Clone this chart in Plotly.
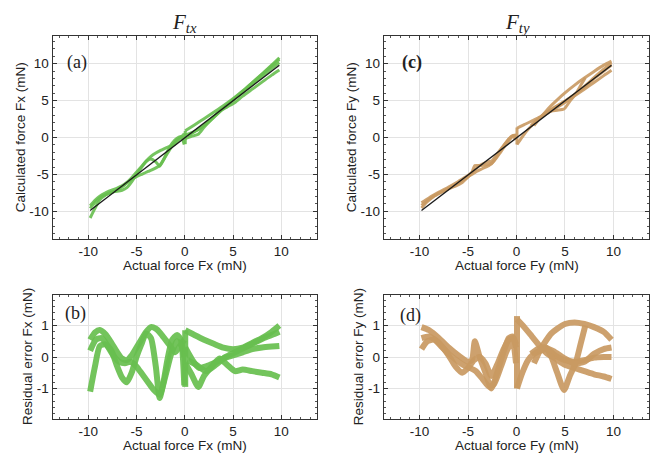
import plotly.graph_objects as go

# ---------------- data ----------------
tick_vals = [-10, -5, 0, 5, 10]
tick_text = ["-10", "-5", "0", "5", "10"]
res_tick_vals = [-1, 0, 1]
res_tick_text = ["-1", "0", "1"]

# fitted line in the upper panels
fit_x = [-9.8, 9.8]
fit_y = [-9.9, 9.8]

# residual error branches, Fx  (actual force, residual)
fx_b1_x = [-9.8, -9.3, -8.8, -8.2, -7.6, -7.0, -6.5, -6.0, -5.5, -5.0, -4.5, -4.0, -3.5, -3.0, -2.5, -2.0, -1.5, -1.0, -0.5, -0.05]
fx_b1_y = [0.55, 0.78, 0.86, 0.72, 0.45, 0.15, -0.05, -0.1, 0.05, 0.3, 0.55, 0.8, 0.95, 0.9, 0.75, 0.55, 0.35, 0.15, 0.35, 0.55]
fx_b2_x = [-9.8, -9.3, -8.8, -8.2, -7.6, -7.0, -6.5, -6.0, -5.5, -5.0, -4.5, -4.0, -3.5, -3.0, -2.6, -2.2, -1.8, -1.3, -0.8, -0.4, -0.05]
fx_b2_y = [-1.1, -0.3, 0.35, 0.4, 0.2, -0.3, -0.65, -0.8, -0.5, 0.0, 0.4, 0.75, 0.6, -0.3, -1.3, -0.8, -0.1, 0.55, 0.7, 0.55, -0.9]
fx_b3_x = [-9.8, -9.2, -8.6, -8.0, -7.4, -6.8, -6.2, -5.6, -5.0, -4.4, -3.8, -3.2, -2.6, -2.0, -1.4, -0.8, -0.3, -0.05]
fx_b3_y = [0.2, 0.55, 0.6, 0.35, 0.05, -0.15, -0.2, -0.15, -0.3, -0.55, -0.8, -1.05, -1.2, -0.6, 0.1, 0.5, 0.35, 0.0]
fx_b4_x = [0.05, 0.05]
fx_b4_y = [-0.95, 0.85]
fx_b5_x = [0.05, 1.0, 2.0, 3.0, 4.0, 5.0, 6.0, 7.0, 8.0, 9.0, 9.8]
fx_b5_y = [0.85, 0.7, 0.55, 0.42, 0.3, 0.25, 0.3, 0.45, 0.6, 0.8, 1.0]
fx_b6_x = [0.05, 0.8, 1.5, 2.2, 3.0, 4.0, 5.0, 6.0, 7.0, 8.0, 9.0, 9.8]
fx_b6_y = [0.3, -0.1, -0.35, -0.3, -0.2, -0.05, 0.05, 0.15, 0.25, 0.3, 0.33, 0.35]
fx_b7_x = [0.05, 0.7, 1.4, 2.0, 2.8, 3.6, 4.4, 5.2, 6.0, 7.0, 8.0, 9.0, 9.8]
fx_b7_y = [-0.2, -0.55, -0.95, -0.6, -0.3, -0.05, -0.25, -0.45, -0.4, -0.45, -0.5, -0.55, -0.65]
fx_b8_x = [0.3, 1.2, 2.2, 3.2, 4.2, 5.2, 6.2, 7.2, 8.2, 9.2, 9.8]
fx_b8_y = [-0.1, -0.25, -0.45, -0.25, 0.0, 0.15, 0.3, 0.45, 0.6, 0.72, 0.8]

# residual error branches, Fy
fy_b1_x = [-9.8, -9.0, -8.0, -7.0, -6.0, -5.0, -4.6, -4.3, -3.8, -3.2, -2.6, -2.0, -1.4, -0.8, -0.4, -0.05]
fy_b1_y = [0.95, 0.85, 0.6, 0.3, 0.05, -0.15, -0.1, 0.5, 0.0, -0.5, -1.0, -0.5, 0.1, 0.6, 0.65, 0.3]
fy_b2_x = [-9.8, -9.0, -8.0, -7.0, -6.3, -5.6, -5.0, -4.4, -3.8, -3.2, -2.6, -2.0, -1.4, -0.8, -0.3, -0.05]
fy_b2_y = [0.6, 0.65, 0.45, 0.05, -0.3, -0.5, -0.35, -0.1, 0.0, -0.2, -0.6, -0.25, 0.2, 0.55, 0.6, 0.4]
fy_b3_x = [-9.8, -9.2, -8.5, -7.8, -7.0, -6.2, -5.5, -4.8, -4.2, -3.5, -2.8, -2.3, -1.6, -1.0, -0.4, -0.05]
fy_b3_y = [0.25, 0.5, 0.55, 0.35, 0.1, -0.1, -0.25, -0.35, -0.45, -0.7, -0.95, -0.85, -0.3, 0.2, 0.5, -0.2]
fy_b4_x = [0.05, 0.05]
fy_b4_y = [-1.0, 1.3]
fy_b5_x = [0.05, 0.8, 1.6, 2.4, 3.2, 4.0, 5.0, 6.0, 7.0, 8.0, 9.0, 9.8]
fy_b5_y = [1.2, 0.95, 0.65, 0.35, 0.1, -0.05, -0.25, -0.35, -0.45, -0.55, -0.62, -0.7]
fy_b6_x = [1.8, 2.4, 3.0, 3.6, 4.2, 5.0, 6.0, 7.0, 8.0, 9.0, 9.8]
fy_b6_y = [-0.2, 0.2, 0.5, 0.75, 0.9, 1.05, 1.1, 1.05, 0.95, 0.8, 0.55]
fy_b7_x = [0.05, 0.6, 1.2, 1.8, 2.5, 3.2, 4.0, 5.0, 6.0, 7.0, 8.0, 9.0, 9.8]
fy_b7_y = [-1.0, -0.5, -0.1, 0.1, 0.2, 0.25, 0.05, -0.1, -0.15, -0.1, -0.02, 0.0, 0.0]
fy_b8_x = [1.5, 2.2, 3.0, 3.6, 4.2, 4.9, 5.5, 6.1, 6.6, 7.1]
fy_b8_y = [0.1, 0.25, 0.3, 0.0, -0.5, -1.05, -0.6, -0.2, 0.4, 1.0]
fy_b9_x = [3.0, 4.0, 5.0, 6.0, 7.0, 8.0, 9.0, 9.8]
fy_b9_y = [0.3, 0.15, -0.05, -0.2, -0.15, 0.1, 0.25, 0.3]

fx_branches = [(fx_b1_x, fx_b1_y), (fx_b2_x, fx_b2_y), (fx_b3_x, fx_b3_y), (fx_b4_x, fx_b4_y),
               (fx_b5_x, fx_b5_y), (fx_b6_x, fx_b6_y), (fx_b7_x, fx_b7_y), (fx_b8_x, fx_b8_y)]
fy_branches = [(fy_b1_x, fy_b1_y), (fy_b2_x, fy_b2_y), (fy_b3_x, fy_b3_y), (fy_b4_x, fy_b4_y),
               (fy_b5_x, fy_b5_y), (fy_b6_x, fy_b6_y), (fy_b7_x, fy_b7_y), (fy_b8_x, fy_b8_y),
               (fy_b9_x, fy_b9_y)]

GREEN = "#68bf4f"
TAN = "#c99a62"

# ---------------- figure ----------------
# the page body has an 8 px margin: draw in a 646x448 figure and shift coordinates
OFF = 8
W, H = 662 - 2 * OFF, 464 - 2 * OFF
fig = go.Figure()


def add_panel(branches, color, top_axes, bot_axes):
    tx, ty = top_axes
    bx, by = bot_axes
    for xs, rs in branches:
        calc = [x + r for x, r in zip(xs, rs)]
        fig.add_trace(go.Scatter(x=xs, y=calc, mode="lines", xaxis=tx, yaxis=ty,
                                 line=dict(color=color, width=3, shape="spline", smoothing=0.6),
                                 opacity=0.9, showlegend=False, hoverinfo="skip"))
        fig.add_trace(go.Scatter(x=xs, y=rs, mode="lines", xaxis=bx, yaxis=by,
                                 line=dict(color=color, width=6, shape="spline", smoothing=0.6),
                                 opacity=0.92, showlegend=False, hoverinfo="skip"))
    fig.add_trace(go.Scatter(x=fit_x, y=fit_y, mode="lines", xaxis=tx, yaxis=ty,
                             line=dict(color="#1a1a1a", width=1.3),
                             showlegend=False, hoverinfo="skip"))


add_panel(fx_branches, GREEN, ("x", "y"), ("x2", "y2"))
add_panel(fy_branches, TAN, ("x3", "y3"), ("x4", "y4"))


def px_x(v):
    return (v - OFF) / W


def px_y(v):
    return 1 - (v - OFF) / H


xl = [px_x(52.5), px_x(317)]
xr = [px_x(383.7), px_x(649.3)]
yt = [px_y(239), px_y(36)]
yb = [px_y(419), px_y(295)]

FONT = "Liberation Sans, Arial, sans-serif"
SERIF = "Liberation Serif, Times New Roman, serif"


def xaxis(domain, anchor):
    return dict(domain=domain, anchor=anchor, range=[-13.7, 13.7],
                tickvals=tick_vals, ticktext=tick_text,
                ticks="inside", ticklen=4, tickcolor="#333", mirror="allticks",
                showline=True, linecolor="#333", linewidth=1,
                showgrid=True, gridcolor="#e3e3e3", gridwidth=1, zeroline=False,
                minor=dict(ticks="inside", dtick=1, ticklen=2, tickcolor="#555", showgrid=False),
                tickfont=dict(family=FONT, size=13.5, color="#222"), automargin=False)


def yaxis(domain, anchor, rng, vals, txt, mdt):
    return dict(domain=domain, anchor=anchor, range=rng,
                tickvals=vals, ticktext=txt,
                ticks="inside", ticklen=4, tickcolor="#333", mirror="allticks",
                showline=True, linecolor="#333", linewidth=1,
                showgrid=True, gridcolor="#e3e3e3", gridwidth=1, zeroline=False,
                minor=dict(ticks="inside", dtick=mdt, ticklen=2, tickcolor="#555", showgrid=False),
                tickfont=dict(family=FONT, size=13.5, color="#222"), automargin=False)


fig.update_layout(
    width=W, height=H, margin=dict(l=0, r=0, t=0, b=0),
    paper_bgcolor="white", plot_bgcolor="white",
    xaxis=xaxis(xl, "y"), yaxis=yaxis(yt, "x", [-13.75, 13.75], tick_vals, tick_text, 1),
    xaxis2=xaxis(xl, "y2"), yaxis2=yaxis(yb, "x2", [-1.97, 1.97], res_tick_vals, res_tick_text, 0.2),
    xaxis3=xaxis(xr, "y3"), yaxis3=yaxis(yt, "x3", [-13.75, 13.75], tick_vals, tick_text, 1),
    xaxis4=xaxis(xr, "y4"), yaxis4=yaxis(yb, "x4", [-1.97, 1.97], res_tick_vals, res_tick_text, 0.2),
)


def ann(text, x, y, size, family=FONT, angle=0, yanchor="middle"):
    fig.add_annotation(text=text, x=px_x(x), y=px_y(y), xref="paper", yref="paper",
                       showarrow=False, xanchor="center", yanchor=yanchor, textangle=angle,
                       font=dict(family=family, size=size, color="#222"))


# column titles (anchored at the top of the figure so they are not clipped)
ann("<i>F</i><sub><i>tx</i></sub>", 184, OFF, 21, SERIF, yanchor="top")
ann("<i>F</i><sub><i>ty</i></sub>", 517, OFF, 21, SERIF, yanchor="top")
# panel labels
ann("(a)", 76.5, 62, 18, SERIF)
ann("(b)", 75.5, 313, 18, SERIF)
ann("<b>(c)</b>", 412, 62, 18, SERIF)
ann("(d)", 410, 315, 18, SERIF)
# axis titles
ann("Actual force Fx (mN)", 184.75, 265, 13.5)
ann("Actual force Fx (mN)", 184.75, 445, 13.5)
ann("Actual force Fy (mN)", 516.5, 265, 13.5)
ann("Actual force Fy (mN)", 516.5, 445, 13.5)
ann("Calculated force Fx (mN)", 20.7, 137.5, 13.5, angle=-90)
ann("Calculated force Fy (mN)", 351.7, 137.5, 13.5, angle=-90)
ann("Residual error Fx (mN)", 27, 357, 13.5, angle=-90)
ann("Residual error Fy (mN)", 358.3, 357, 13.5, angle=-90)

fig.write_html("out.html")
